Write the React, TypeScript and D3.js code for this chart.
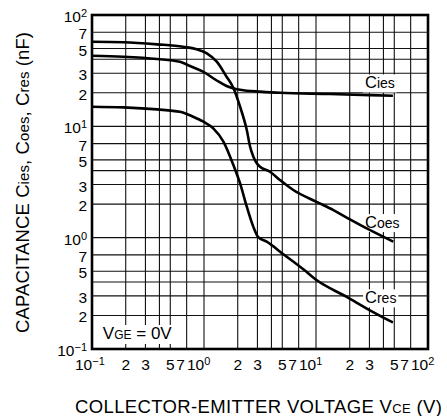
import { useEffect, useRef } from 'react';
import * as d3 from 'd3';

type Pt = [number, number];

// Capacitance (nF) vs collector-emitter voltage (V)
const coes: Pt[] = [
  [0.1, 57.5], [0.19, 56.9], [0.38, 54.5], [0.65, 51.9], [0.86, 49.2],
  [1.06, 45.3], [1.3, 38.1], [1.59, 27.9], [1.83, 22.1], [2.1, 15],
  [2.41, 9.26], [2.58, 6.56], [2.76, 5.34], [2.96, 4.66], [3.16, 4.34],
  [3.88, 3.91], [4.77, 3.29], [6.27, 2.68], [10.1, 2.1], [14.3, 1.77],
  [20.1, 1.46], [28.4, 1.21], [49, 0.92],
];

const cies: Pt[] = [
  [0.1, 43.1], [0.19, 42.2], [0.38, 40.3], [0.61, 38], [0.75, 34.8],
  [0.99, 30.8], [1.3, 25.8], [1.59, 23], [1.96, 21.5], [2.41, 20.9],
  [3.16, 20.5], [4.77, 20], [13.3, 19.5], [48.6, 18.8],
];

const cres: Pt[] = [
  [0.1, 15], [0.19, 14.8], [0.38, 14.2], [0.61, 13.5], [0.8, 12.2],
  [0.99, 11], [1.21, 9.6], [1.49, 7.3], [1.83, 4.49], [2.1, 3.07],
  [2.41, 1.9], [2.76, 1.25], [3.05, 1.01], [3.63, 0.92], [5.11, 0.71],
  [7.7, 0.52], [10.1, 0.416], [18.8, 0.294], [28.4, 0.231], [48.6, 0.173],
];

const decades = [0.1, 1, 10];
const gridMultiples = [2, 3, 4, 5, 7];
const xTickValues = [0.1, 0.2, 0.3, 0.5, 0.7, 1, 2, 3, 5, 7, 10, 20, 30, 50, 70, 100];
const yTickValues = [0.1, 0.2, 0.3, 0.5, 0.7, 1, 2, 3, 5, 7, 10, 20, 30, 50, 70, 100];

const curveLabels = [
  { sub: 'ies', at: [27.4, 21.9] },
  { sub: 'oes', at: [27.4, 1.22] },
  { sub: 'res', at: [27.4, 0.257] },
];

const FONT = '"Liberation Sans", Arial, Helvetica, sans-serif';

export default function App() {
  const svgRef = useRef<SVGSVGElement | null>(null);

  const W = 447;
  const H = 416;
  const plot = { left: 92, right: 428, top: 15, bottom: 349 };

  useEffect(() => {
    const svg = d3.select(svgRef.current);
    svg.selectAll('*').remove();

    const x = d3.scaleLog().domain([0.1, 100]).range([plot.left, plot.right]);
    const y = d3.scaleLog().domain([0.1, 100]).range([plot.bottom, plot.top]);

    svg.append('rect').attr('width', W).attr('height', H).attr('fill', '#fff');

    // grid values: 2,3,4,5,7 in each decade plus inner decades
    const gridVals: number[] = [];
    decades.forEach((d, i) => {
      if (i > 0) gridVals.push(d);
      gridMultiples.forEach((m) => gridVals.push(d * m));
    });

    const grid = svg.append('g').attr('stroke', '#111').attr('stroke-width', 1.1);
    grid.selectAll('.vx')
      .data(gridVals)
      .enter()
      .append('line')
      .attr('x1', (d) => x(d))
      .attr('x2', (d) => x(d))
      .attr('y1', plot.top)
      .attr('y2', plot.bottom);
    grid.selectAll('.hy')
      .data(gridVals)
      .enter()
      .append('line')
      .attr('y1', (d) => y(d))
      .attr('y2', (d) => y(d))
      .attr('x1', plot.left)
      .attr('x2', plot.right);

    // label boxes (white) covering the grid, then labels
    const labelG = svg.append('g').attr('font-family', FONT);
    curveLabels.forEach((l) => {
      const t = labelG.append('text')
        .attr('x', x(l.at[0]))
        .attr('y', y(l.at[1]))
        .attr('fill', '#000');
      t.append('tspan').attr('font-size', 16.5).text('C');
      t.append('tspan').attr('font-size', 14).text(l.sub);
    });

    const vge = labelG.append('text')
      .attr('x', x(0.125))
      .attr('y', y(0.123))
      .attr('fill', '#000');
    vge.append('tspan').attr('font-size', 17).text('V');
    vge.append('tspan').attr('font-size', 12).text('GE');
    vge.append('tspan').attr('font-size', 17).text(' = 0V');

    labelG.selectAll<SVGTextElement, unknown>('text').each(function () {
      const b = this.getBBox();
      d3.select(this.parentNode as SVGGElement)
        .insert('rect', 'text')
        .attr('x', b.x - 2)
        .attr('y', b.y + 1)
        .attr('width', b.width + 4)
        .attr('height', b.height)
        .attr('fill', '#fff');
    });

    // curves
    const line = d3.line<Pt>()
      .x((d) => x(d[0]))
      .y((d) => y(d[1]))
      .curve(d3.curveMonotoneX);

    [coes, cies, cres].forEach((s) => {
      svg.append('path')
        .datum(s)
        .attr('fill', 'none')
        .attr('stroke', '#000')
        .attr('stroke-width', 2.6)
        .attr('stroke-linejoin', 'round')
        .attr('d', line);
    });

    // frame
    svg.append('rect')
      .attr('x', plot.left)
      .attr('y', plot.top)
      .attr('width', plot.right - plot.left)
      .attr('height', plot.bottom - plot.top)
      .attr('fill', 'none')
      .attr('stroke', '#000')
      .attr('stroke-width', 2.6);

    const isDecade = (v: number) =>
      Math.abs(Math.log10(v) - Math.round(Math.log10(v))) < 1e-9;
    const expText = (v: number) => {
      const e = Math.round(Math.log10(v));
      return e < 0 ? `\u2212${-e}` : `${e}`;
    };

    // x tick labels
    const xl = svg.append('g').attr('font-family', FONT).attr('font-size', 15.5);
    xTickValues.forEach((v) => {
      if (isDecade(v)) {
        const t = xl.append('text').attr('x', x(v) - 17).attr('y', 370);
        t.append('tspan').text('10');
        t.append('tspan').attr('font-size', 11).attr('dy', -5).text(expText(v));
      } else {
        const lead = Math.round(v / Math.pow(10, Math.floor(Math.log10(v) + 1e-9)));
        xl.append('text')
          .attr('x', x(v) + (lead === 7 ? -6 : 0))
          .attr('y', 370)
          .attr('text-anchor', 'middle')
          .text(String(lead));
      }
    });

    // y tick labels
    const yl = svg.append('g').attr('font-family', FONT).attr('font-size', 15.5);
    yTickValues.forEach((v) => {
      const t = yl.append('text')
        .attr('x', 87)
        .attr('y', y(v) + 7)
        .attr('text-anchor', 'end');
      if (isDecade(v)) {
        t.append('tspan').text('10');
        t.append('tspan').attr('font-size', 11).attr('dy', -5).text(expText(v));
      } else {
        const lead = Math.round(v / Math.pow(10, Math.floor(Math.log10(v) + 1e-9)));
        t.text(String(lead));
      }
    });

    // axis titles
    const xt = svg.append('text')
      .attr('font-family', FONT)
      .attr('font-size', 18.5)
      .attr('x', 75)
      .attr('y', 413)
      .attr('textLength', 367)
      .attr('lengthAdjust', 'spacing');
    xt.append('tspan').text('COLLECTOR-EMITTER VOLTAGE V');
    xt.append('tspan').attr('font-size', 13).text('CE');
    xt.append('tspan').text(' (V)');

    const yt = svg.append('text')
      .attr('font-family', FONT)
      .attr('font-size', 18.5)
      .attr('transform', 'translate(28.5,333) rotate(-90)')
      .attr('textLength', 301)
      .attr('lengthAdjust', 'spacing');
    yt.append('tspan').text('CAPACITANCE C');
    yt.append('tspan').attr('font-size', 15).text('ies');
    yt.append('tspan').text(', C');
    yt.append('tspan').attr('font-size', 15).text('oes');
    yt.append('tspan').text(', C');
    yt.append('tspan').attr('font-size', 15).text('res');
    yt.append('tspan').text(' (nF)');
  }, []);

  return (
    <svg
      ref={svgRef}
      width={W}
      height={H}
      style={{ position: 'absolute', left: 0, top: 0 }}
    ></svg>
  );
}
